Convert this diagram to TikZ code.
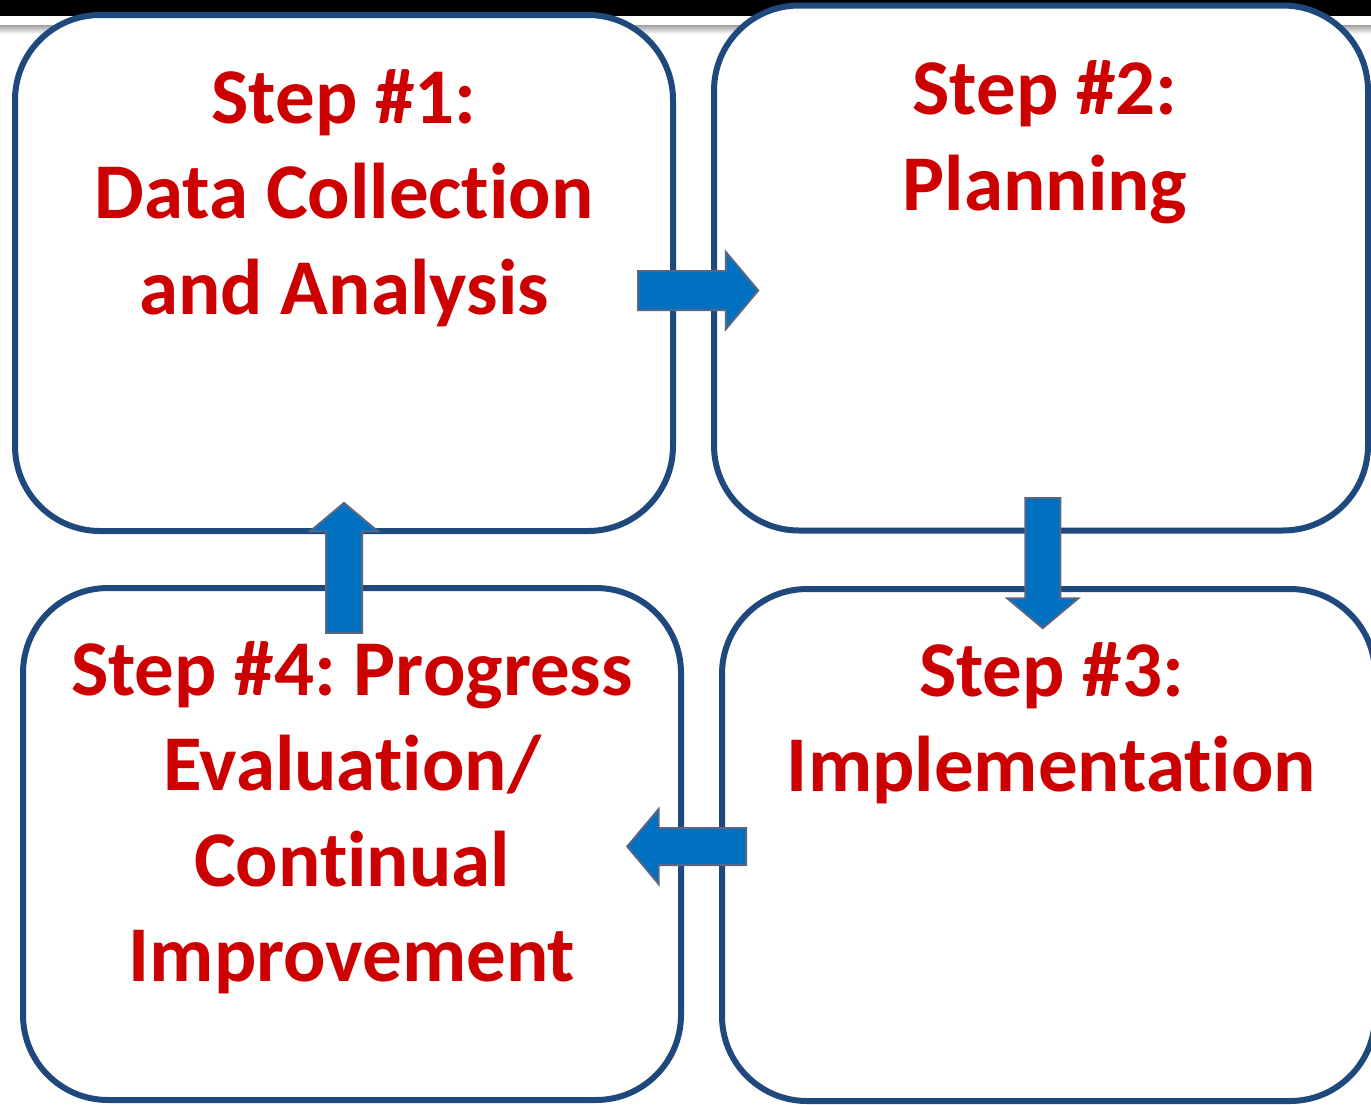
\documentclass[tikz,border=0pt]{standalone}
\usepackage{fontspec}
\setmainfont{Carlito}[Ligatures=NoCommon]
\usetikzlibrary{positioning,calc,shapes.arrows}

\definecolor{boxblue}{RGB}{31,73,125}
\definecolor{stepred}{RGB}{204,0,0}
\definecolor{arrowfill}{RGB}{0,112,192}
\definecolor{arrowedge}{RGB}{88,102,132}

\frenchspacing

\begin{document}
\begin{tikzpicture}[x=1pt, y=-1pt,
    stepbox/.style={draw = boxblue, line width = 6pt, fill = white,
        rounded corners = 85pt, inner sep = 0pt},
    steptext/.style={anchor = north, inner sep = 0pt, text = stepred,
        align = center, font = \fontsize{79}{95.5}\selectfont\bfseries},
    blockarrow/.style={single arrow, draw = arrowedge, line width = 2pt,
        fill = arrowfill, inner sep = 0pt, text depth = 0pt,
        single arrow head indent = 0pt, single arrow tip angle = 100}]

        \useasboundingbox (0,0) rectangle (1371,1104);

        %slide title bar
        \fill[black] (0,0) rectangle (1371,16);
        \shade[top color = gray!75, bottom color = white] (0,25) rectangle (1371,34);

        %step boxes
        \node[stepbox, minimum width = 658pt, minimum height = 516pt] (s1) at (344,273) {};
        \node[stepbox, minimum width = 654pt, minimum height = 525pt] (s2) at (1041,268) {};
        \node[stepbox, minimum width = 653pt, minimum height = 512pt] (s3) at (1048.5,845) {};
        \node[stepbox, minimum width = 658pt, minimum height = 512pt] (s4) at (352,844) {};

        %step texts
        \node[steptext] (t1) at ($(s1.north) + (0,57)$) {Step \#1:\\Data Collection\\and Analysis};
        \node[steptext] (t2) at ($(s2.north) + (4,58)$) {Step \#2:\\Planning};
        \node[steptext] (t3) at ($(s3.north) + (3,56)$) {Step \#3:\\Implementation};
        \node[steptext] (t4) at ($(s4.north) + (0,56)$) {Step \#4: Progress\\Evaluation/\\Continual\\Improvement};

        %block arrows between the steps
        \node[blockarrow, minimum height = 120pt, text height = 37pt,
            single arrow head extend = 19pt] (a12) at ($(s1.east)!.5!(s2.west) + (-3.5,20)$) {};
        \node[blockarrow, rotate = -90, minimum height = 130pt, text height = 33pt,
            single arrow head extend = 18pt] (a23) at ($(s2.south)!.5!(s3.north) + (-2,-4)$) {};
        \node[blockarrow, rotate = 180, minimum height = 119pt, text height = 35pt,
            single arrow head extend = 19pt] (a34) at ($(s3.west)!.5!(s4.east) + (-7,2)$) {};
        \node[blockarrow, rotate = 90, minimum height = 130pt, text height = 34pt,
            single arrow head extend = 16pt] (a41) at ($(s4.north)!.5!(s1.south) + (-4,16)$) {};

\end{tikzpicture}
\end{document}
